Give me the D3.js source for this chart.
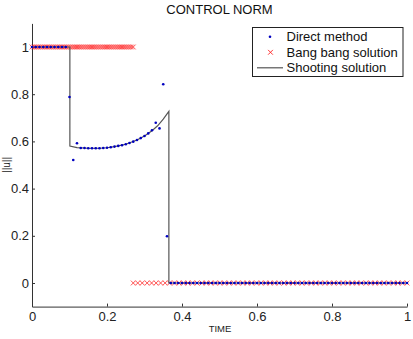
<!DOCTYPE html>
<html>
<head>
<meta charset="utf-8">
<script src="https://cdn.jsdelivr.net/npm/d3@7"></script>
<style>
  body { margin: 0; background: #fff; }
  svg { display: block; font-family: "Liberation Sans", Arial, sans-serif; }
</style>
</head>
<body>
<svg id="chart" width="413" height="339"></svg>
<script>
// direct method samples
var directTime = [0.00, 0.01, 0.02, 0.03, 0.04, 0.05, 0.06, 0.07, 0.08, 0.09,
  0.10, 0.11, 0.12, 0.13, 0.14, 0.15, 0.16, 0.17, 0.18, 0.19,
  0.20, 0.21, 0.22, 0.23, 0.24, 0.25, 0.26, 0.27, 0.28, 0.29,
  0.30, 0.31, 0.32, 0.33, 0.34, 0.35, 0.36, 0.37, 0.38, 0.39,
  0.40, 0.41, 0.42, 0.43, 0.44, 0.45, 0.46, 0.47, 0.48, 0.49,
  0.50, 0.51, 0.52, 0.53, 0.54, 0.55, 0.56, 0.57, 0.58, 0.59,
  0.60, 0.61, 0.62, 0.63, 0.64, 0.65, 0.66, 0.67, 0.68, 0.69,
  0.70, 0.71, 0.72, 0.73, 0.74, 0.75, 0.76, 0.77, 0.78, 0.79,
  0.80, 0.81, 0.82, 0.83, 0.84, 0.85, 0.86, 0.87, 0.88, 0.89,
  0.90, 0.91, 0.92, 0.93, 0.94, 0.95, 0.96, 0.97, 0.98, 0.99, 1.00];
var directNorm = [1, 1, 1, 1, 1, 1, 1, 1, 1, 1,
  0.788, 0.521, 0.592, 0.572, 0.572, 0.571, 0.571, 0.571, 0.571, 0.572,
  0.573, 0.575, 0.578, 0.581, 0.584, 0.588, 0.593, 0.599, 0.606, 0.614,
  0.623, 0.634, 0.647, 0.679, 0.655, 0.842, 0.198, 0, 0, 0,
  0, 0, 0, 0, 0, 0, 0, 0, 0, 0,
  0, 0, 0, 0, 0, 0, 0, 0, 0, 0,
  0, 0, 0, 0, 0, 0, 0, 0, 0, 0,
  0, 0, 0, 0, 0, 0, 0, 0, 0, 0,
  0, 0, 0, 0, 0, 0, 0, 0, 0, 0,
  0, 0, 0, 0, 0, 0, 0, 0, 0, 0, 0];

// bang bang solution
var bangOnTime = [0.000, 0.005, 0.010, 0.015, 0.020, 0.025, 0.030, 0.035, 0.040, 0.045,
  0.050, 0.055, 0.060, 0.065, 0.070, 0.075, 0.080, 0.085, 0.090, 0.095,
  0.100, 0.105, 0.110, 0.115, 0.120, 0.125, 0.130, 0.135, 0.140, 0.145,
  0.150, 0.155, 0.160, 0.165, 0.170, 0.175, 0.180, 0.185, 0.190, 0.195,
  0.200, 0.205, 0.210, 0.215, 0.220, 0.225, 0.230, 0.235, 0.240, 0.245,
  0.250, 0.255, 0.260, 0.265, 0.270];
var bangOffTime = [0.270, 0.282, 0.294, 0.307, 0.319, 0.331, 0.343, 0.355, 0.367, 0.380,
  0.392, 0.404, 0.416, 0.428, 0.440, 0.453, 0.465, 0.477, 0.489, 0.501,
  0.513, 0.526, 0.538, 0.550, 0.562, 0.574, 0.586, 0.599, 0.611, 0.623,
  0.635, 0.647, 0.659, 0.672, 0.684, 0.696, 0.708, 0.720, 0.732, 0.745,
  0.757, 0.769, 0.781, 0.793, 0.805, 0.818, 0.830, 0.842, 0.854, 0.866,
  0.878, 0.891, 0.903, 0.915, 0.927, 0.939, 0.951, 0.964, 0.976, 0.988, 1.000];
var bangOnValue = 1;
var bangOffValue = 0;

// shooting solution
var shootTime = [0, 0.101, 0.101, 0.12, 0.15, 0.18, 0.20, 0.22, 0.25, 0.28, 0.30, 0.32, 0.335, 0.35, 0.365, 0.365, 1];
var shootNorm = [1, 1, 0.580, 0.574, 0.571, 0.571, 0.573, 0.578, 0.588, 0.606, 0.623, 0.645, 0.666, 0.694, 0.727, 0, 0];

var xTicks = [0, 0.2, 0.4, 0.6, 0.8, 1];
var yTicks = [0, 0.2, 0.4, 0.6, 0.8, 1];
var legendLabels = ['Direct method', 'Bang bang solution', 'Shooting solution'];

var svg = d3.select('#chart');
var axisColor = '#333';

var x = d3.scaleLinear().domain([0, 1]).range([32, 407]);
var y = d3.scaleLinear().domain([-0.1, 1.1]).range([306.6, 23.4]);

// axes (ticks point inward, no box)
var xAxis = svg.append('g')
  .attr('transform', 'translate(0,' + y(-0.1) + ')')
  .call(d3.axisBottom(x).tickValues(xTicks).tickSizeInner(-3).tickSizeOuter(0).tickPadding(5)
    .tickFormat(d3.format('')));
var yAxis = svg.append('g')
  .attr('transform', 'translate(' + x(0) + ',0)')
  .call(d3.axisLeft(y).tickValues(yTicks).tickSizeInner(-3).tickSizeOuter(0).tickPadding(3)
    .tickFormat(d3.format('')));

[xAxis, yAxis].forEach(function(g) {
  g.select('.domain').attr('stroke', axisColor).attr('stroke-width', 1);
  g.selectAll('.tick line').attr('stroke', axisColor);
  g.selectAll('.tick text')
    .attr('fill', '#222')
    .style('font-size', '13px')
    .style('font-family', '"Liberation Sans", Arial, sans-serif');
});

var plot = svg.append('g');

// bang bang crosses
var crossPath = function(cx, cy, s) {
  return 'M' + (cx - s) + ',' + (cy - s) + 'L' + (cx + s) + ',' + (cy + s) +
    'M' + (cx - s) + ',' + (cy + s) + 'L' + (cx + s) + ',' + (cy - s);
};
var bangPts = bangOnTime.map(function(t) { return [t, bangOnValue]; })
  .concat(bangOffTime.map(function(t) { return [t, bangOffValue]; }));
plot.selectAll('path.bang').data(bangPts).enter()
  .append('path')
  .attr('class', 'bang')
  .attr('d', function(d) { return crossPath(x(d[0]), y(d[1]), 2.4); })
  .attr('stroke', '#ff2020')
  .attr('stroke-opacity', 0.85)
  .attr('stroke-width', 0.9)
  .attr('fill', 'none');

// shooting solution line
var line = d3.line()
  .x(function(d) { return x(d[0]); })
  .y(function(d) { return y(d[1]); });
plot.append('path')
  .datum(shootTime.map(function(t, i) { return [t, shootNorm[i]]; }))
  .attr('d', line)
  .attr('fill', 'none')
  .attr('stroke', '#555')
  .attr('stroke-width', 1.2);

// direct method dots
plot.selectAll('circle.direct').data(directTime).enter()
  .append('circle')
  .attr('class', 'direct')
  .attr('cx', function(t) { return x(t); })
  .attr('cy', function(t, i) { return y(directNorm[i]); })
  .attr('r', 1.3)
  .attr('fill', '#0000c0');

// title and labels
svg.append('text')
  .attr('x', 219.5).attr('y', 14)
  .attr('text-anchor', 'middle')
  .style('font-size', '13px')
  .attr('fill', '#111')
  .text('CONTROL NORM');
svg.append('text')
  .attr('x', 220).attr('y', 332)
  .attr('text-anchor', 'middle')
  .style('font-size', '9.5px')
  .attr('fill', '#222')
  .text('TIME');
svg.append('text')
  .attr('transform', 'translate(10,165) rotate(-90)')
  .attr('text-anchor', 'middle')
  .style('font-size', '10px')
  .attr('fill', '#222')
  .text('||u||');

// legend
var legend = svg.append('g');
legend.append('rect')
  .attr('x', 252.5).attr('y', 27.5)
  .attr('width', 150.5).attr('height', 49)
  .attr('fill', '#fff')
  .attr('stroke', '#222')
  .attr('stroke-width', 1);
var rowY = [36.7, 52.3, 67.8];
legend.append('circle')
  .attr('cx', 270).attr('cy', rowY[0]).attr('r', 1.3).attr('fill', '#0000c0');
legend.append('path')
  .attr('d', crossPath(270.5, rowY[1], 2.4))
  .attr('stroke', '#ff2020').attr('stroke-width', 0.9).attr('fill', 'none');
legend.append('line')
  .attr('x1', 257).attr('x2', 283).attr('y1', rowY[2]).attr('y2', rowY[2])
  .attr('stroke', '#555').attr('stroke-width', 1.2);
legend.selectAll('text.lab').data(legendLabels).enter()
  .append('text')
  .attr('class', 'lab')
  .attr('x', 286.5)
  .attr('y', function(d, i) { return rowY[i] + 4.5; })
  .style('font-size', '13px')
  .attr('fill', '#111')
  .text(function(d) { return d; });
</script>
</body>
</html>
